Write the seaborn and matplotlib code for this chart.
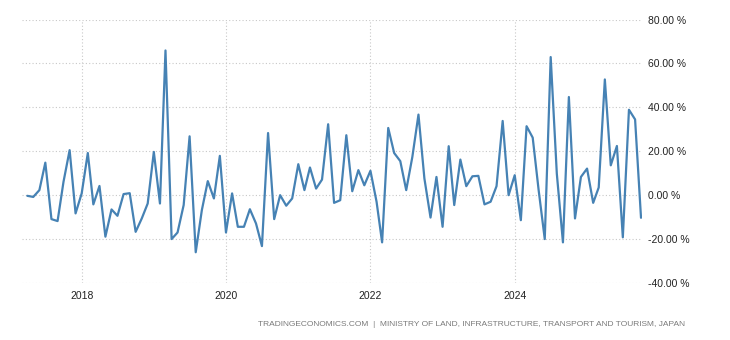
import matplotlib
matplotlib.use("Agg")
import matplotlib.pyplot as plt
from matplotlib.ticker import FuncFormatter
import pandas as pd
import seaborn as sns

# Monthly year-on-year change, April 2017 to October 2025
start_month = "2017-04-01"
yoy_change = [
    -0.3, -0.8, 2.3, 14.8, -10.9, -11.8, 6.1, 20.5, -8.3,
    0.8, 19.2, -4.2, 4.2, -18.9, -6.5, -9.4, 0.5, 0.9, -16.7, -10.6, -3.8,
    19.7, -3.8, 65.9, -20.0, -17.0, -4.5, 26.8, -26.0, -6.8, 6.4, -1.5, 17.9,
    -17.0, 0.8, -14.4, -14.4, -6.4, -12.9, -23.2, 28.3, -10.9, 0.0, -4.8, -1.5,
    14.1, 2.3, 12.6, 3.0, 7.1, 32.3, -3.5, -2.3, 27.3, 1.8, 11.4, 4.5,
    11.1, -3.0, -21.5, 30.6, 19.2, 15.5, 2.3, 17.4, 36.7, 7.6, -10.2, 8.3,
    -14.4, 22.3, -4.5, 16.2, 4.1, 8.6, 8.8, -4.2, -3.0, 4.1, 33.8, 0.0,
    9.1, -11.4, 31.4, 26.2, 2.3, -20.0, 62.9, 9.8, -21.5, 44.7, -10.6, 8.3,
    12.1, -3.5, 3.5, 52.7, 13.6, 22.4, -19.2, 38.9, 34.5, -10.3,
]
year_ticks = ["2018", "2020", "2022", "2024"]
y_ticks = [-40, -20, 0, 20, 40, 60, 80]
source_note = ("TRADINGECONOMICS.COM  |  MINISTRY OF LAND, INFRASTRUCTURE, "
               "TRANSPORT AND TOURISM, JAPAN")

df = pd.DataFrame({
    "date": pd.date_range(start_month, periods=len(yoy_change), freq="MS"),
    "value": yoy_change,
})

sns.set_style("white")
plt.rcParams["font.family"] = ["Liberation Sans", "DejaVu Sans"]

fig = plt.figure(figsize=(7.30, 3.40), dpi=100)
ax = fig.add_axes([22 / 730, 57 / 340, (642 - 22) / 730, (283 - 19.5) / 340])

sns.lineplot(data=df, x="date", y="value", ax=ax, color="#4682b4", linewidth=1.6)

ax.set_xlim(pd.Timestamp("2017-03-05"), pd.Timestamp("2025-10-06"))
ax.set_ylim(-40, 80)
ax.set_yticks(y_ticks)
ax.yaxis.set_major_formatter(FuncFormatter(lambda v, _: f"{v:.2f} %"))
ax.yaxis.tick_right()
ax.set_xticks([pd.Timestamp(f"{y}-01-01") for y in year_ticks])
ax.set_xticklabels(year_ticks)

ax.set_xlabel("")
ax.set_ylabel("")
for spine in ax.spines.values():
    spine.set_visible(False)

ax.grid(True, axis="both", color="#c8c8c8", linestyle=(0, (1, 2)), linewidth=0.8)
ax.tick_params(axis="y", length=0, pad=4.5, labelsize=7.5, labelcolor="#222222")
ax.tick_params(axis="x", length=0, pad=6, labelsize=7.5, labelcolor="#222222")

fig.text(685 / 730, 1 - 324.5 / 340, source_note, ha="right", va="center",
         fontsize=6.0, color="#7a7a7a")

fig.savefig("out.png", dpi=100)
